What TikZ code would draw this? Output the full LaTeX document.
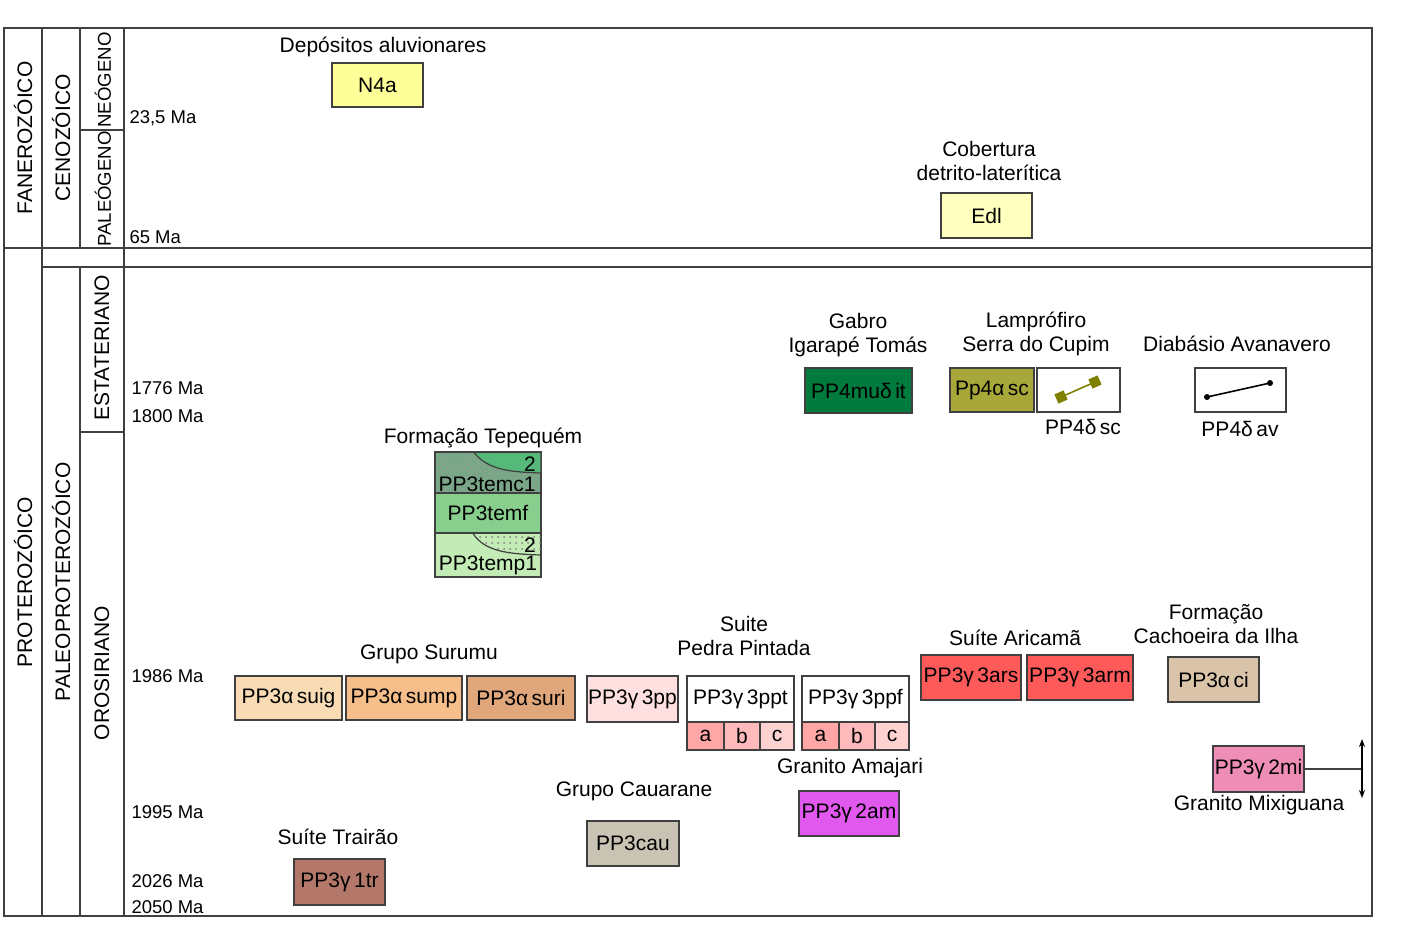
\documentclass[tikz,border=0pt]{standalone}
\usepackage{fontspec}
\setmainfont{Liberation Sans}
\usetikzlibrary{patterns,arrows.meta}
\definecolor{aluv}{HTML}{FFFF99}
\definecolor{later}{HTML}{FFFFC0}
\definecolor{gabro}{HTML}{007A3D}
\definecolor{oliva}{HTML}{A8A83A}
\definecolor{olivaln}{HTML}{808000}
\definecolor{suig}{HTML}{F9DCB5}
\definecolor{sump}{HTML}{F5BE8A}
\definecolor{suri}{HTML}{E0A67C}
\definecolor{ppink}{HTML}{FFE0E0}
\definecolor{pa}{HTML}{FFA6A6}
\definecolor{pb}{HTML}{FFBBBB}
\definecolor{pc}{HTML}{FFD2D2}
\definecolor{arica}{HTML}{FF5A5A}
\definecolor{cach}{HTML}{D9C4A9}
\definecolor{amaj}{HTML}{E058EE}
\definecolor{caua}{HTML}{C9C3B3}
\definecolor{trai}{HTML}{B3786A}
\definecolor{mixi}{HTML}{EE8DB5}
\definecolor{temc}{HTML}{76A886}
\definecolor{temcb}{HTML}{55B97A}
\definecolor{temf}{HTML}{88CF8E}
\definecolor{temp}{HTML}{C2EBB6}
\tikzset{
	ln/.style={draw=black!75, line width=0.6pt},
	bx/.style={draw=black!75, line width=0.6pt, inner sep=1pt, minimum height=45pt},
	ma/.style={anchor=west, font=\fontsize{18.5}{22}\selectfont},
	era/.style={rotate=90},
	tip/.style={{Stealth[length=4pt,width=3pt]}-{Stealth[length=4pt,width=3pt]}},
}

\begin{document}
\begin{tikzpicture}[x=1pt, y=-1pt, scale=0.5, transform shape, font=\fontsize{21}{24}\selectfont]
	\useasboundingbox (0,0) rectangle (1412,939);

	% frame
	\draw [ln] (4,28) rectangle (1372,916);
	\draw [ln] (4,248) -- (1372,248);
	\draw [ln] (42,267) -- (1372,267);
	\draw [ln] (42,28) -- (42,916);
	\draw [ln] (80,28) -- (80,248);
	\draw [ln] (80,267) -- (80,916);
	\draw [ln] (124,28) -- (124,916);
	\draw [ln] (80,130) -- (124,130);
	\draw [ln] (80,432) -- (124,432);

	\node [era] (fan) at (23,138) {FANEROZÓICO};
	\node [era] (cen) at (61,138) {CENOZÓICO};
	\node [era, font=\fontsize{18.6}{22}\selectfont] (neo) at (103,80) {NEÓGENO};
	\node [era, font=\fontsize{18.6}{22}\selectfont] (pal) at (103,189) {PALEÓGENO};
	\node [era] (pro) at (23,582) {PROTEROZÓICO};
	\node [era] (ppr) at (61,582) {PALEOPROTEROZÓICO};
	\node [era] (est) at (102,348) {ESTATERIANO};
	\node [era] (oro) at (102,673) {OROSIRIANO};

	\node [ma] (m235) at (126,118) {23,5 Ma};
	\node [ma] (m65) at (126,237) {65 Ma};
	\node [ma] (m1776) at (128,388) {1776 Ma};
	\node [ma] (m1800) at (128,416) {1800 Ma};
	\node [ma] (m1986) at (128,676) {1986 Ma};
	\node [ma] (m1995) at (128,812) {1995 Ma};
	\node [ma] (m2026) at (128,881) {2026 Ma};
	\node [ma] (m2050) at (128,907) {2050 Ma};

	% cenozoico
	\node (depo) at (383,47) {Depósitos aluvionares};
	\node [bx, fill=aluv, minimum width=91pt, minimum height=44pt] (n4a) at (377.5,85) {N4a};
	\node [align=center] (cob) at (989,161) {Cobertura\\detrito-laterítica};
	\node [bx, fill=later, minimum width=91pt] (edl) at (986.5,215.5) {Edl};

	% estateriano
	\node [align=center] (gab) at (858,335) {Gabro\\Igarapé Tomás};
	\node [bx, fill=gabro, minimum width=107pt] (pp4mu) at (858.5,390.5) {PP4muδ\,it};
	\node [align=center] (lam) at (1036,334) {Lamprófiro\\Serra do Cupim};
	\node [bx, fill=oliva, minimum width=84pt, minimum height=44pt] (pp4a) at (992,390) {Pp4α\,sc};
	\node [bx, fill=white, minimum width=83pt, minimum height=44pt] (pp4sc) at (1078.5,390) {};
	\node (pp4sct) at (1083,427) {PP4δ\,sc};
	\draw [olivaln, line width=0.8pt] (1061,397) -- (1095,382);
	\fill [olivaln, shift={(1061,397)}, rotate=24] (-5,-5) rectangle (5,5);
	\fill [olivaln, shift={(1095,382)}, rotate=24] (-5,-5) rectangle (5,5);
	\node (diab) at (1237,344) {Diabásio Avanavero};
	\node [bx, fill=white, minimum width=91pt, minimum height=44pt] (pp4av) at (1240.5,390) {};
	\node (pp4avt) at (1240,429) {PP4δ\,av};
	\draw [line width=0.8pt] (1207,397) -- (1270,383);
	\fill (1207,397) circle (3);
	\fill (1270,383) circle (3);

	% tepequem
	\node (tep) at (483,438) {Formação Tepequém};
	\node [bx, preaction={fill=temc}, pattern=crosshatch dots, pattern color=gray!80, minimum width=106pt, minimum height=41pt] (temc) at (488,472.5) {};
	\fill [temcb, draw=black!75, line width=0.6pt] (474,452.5) .. controls (488,470) and (510,472) .. (541,473) -- (541,452.5) -- cycle;
	\node (temct) at (487,484) {PP3temc1};
	\node (temc2) at (530,464) {2};
	\node [bx, fill=temf, minimum width=106pt, minimum height=40pt] (temf) at (488,513) {PP3temf};
	\node [bx, fill=temp, minimum width=106pt, minimum height=44pt] (temp) at (488,555) {};
	\fill [pattern=dots, pattern color=gray] (473,533.5) .. controls (485,552) and (510,554) .. (541,555) -- (541,533.5) -- cycle;
	\draw [ln] (473,533.5) .. controls (485,552) and (510,554) .. (541,555);
	\node (tempt) at (488,565) {PP3temp1};
	\node (temp2) at (530,545) {2};

	% orosiriano
	\node (suru) at (429,654) {Grupo Surumu};
	\node [bx, fill=suig, minimum width=107pt, minimum height=44pt] (suig) at (288.5,698) {PP3α\,suig};
	\node [bx, fill=sump, minimum width=116pt, minimum height=44pt] (sump) at (404,698) {PP3α\,sump};
	\node [bx, fill=suri, minimum width=108pt, minimum height=44pt] (suri) at (521,698) {PP3α\,suri};
	\node [bx, fill=ppink, minimum width=91pt, minimum height=46pt] (pp) at (632.5,699) {PP3γ\,3pp};

	\node [align=center] (pedra) at (744,636) {Suite\\Pedra Pintada};
	\node [bx, fill=white, minimum width=107pt, minimum height=46pt] (ppt) at (740.5,699) {PP3γ\,3ppt};
	\node [bx, fill=pa, minimum width=37pt, minimum height=28pt] (pta) at (705.5,736) {a};
	\node [bx, fill=pb, minimum width=36pt, minimum height=28pt] (ptb) at (742,736) {b};
	\node [bx, fill=pc, minimum width=34pt, minimum height=28pt] (ptc) at (777,736) {c};
	\node [bx, fill=white, minimum width=107pt, minimum height=46pt] (ppf) at (855.5,699) {PP3γ\,3ppf};
	\node [bx, fill=pa, minimum width=37pt, minimum height=28pt] (pfa) at (820.5,736) {a};
	\node [bx, fill=pb, minimum width=36pt, minimum height=28pt] (pfb) at (857,736) {b};
	\node [bx, fill=pc, minimum width=34pt, minimum height=28pt] (pfc) at (892,736) {c};

	\node (aric) at (1015,638) {Suíte Aricamã};
	\node [bx, fill=arica, minimum width=100pt] (ars) at (971,677.5) {PP3γ\,3ars};
	\node [bx, fill=arica, minimum width=106pt] (arm) at (1080,677.5) {PP3γ\,3arm};
	\node [align=center] (cach) at (1216,624) {Formação\\Cachoeira da Ilha};
	\node [bx, fill=cach, minimum width=91pt] (ci) at (1213.5,679.5) {PP3α\,ci};

	\node [bx, fill=mixi, minimum width=91pt, minimum height=46pt] (mi) at (1258.5,769) {PP3γ\,2mi};
	\node (mixt) at (1259,805) {Granito Mixiguana};
	\coordinate (mij) at (1362,769);
	\coordinate (mitop) at (1362,739);
	\coordinate (mibot) at (1362,798);
	\draw [ln] (mi.east) -- (mij);
	\draw [ln, black, tip] (mitop) -- (mibot);

	\node (amaj) at (850,768) {Granito Amajari};
	\node [bx, fill=amaj, minimum width=100pt] (am) at (849,813.5) {PP3γ\,2am};
	\node (cauat) at (634,791) {Grupo Cauarane};
	\node [bx, fill=caua, minimum width=92pt] (cau) at (633,843.5) {PP3cau};
	\node (trait) at (338,837) {Suíte Trairão};
	\node [bx, fill=trai, minimum width=91pt, minimum height=46pt] (tr) at (339.5,882) {PP3γ\,1tr};
\end{tikzpicture}
\end{document}
